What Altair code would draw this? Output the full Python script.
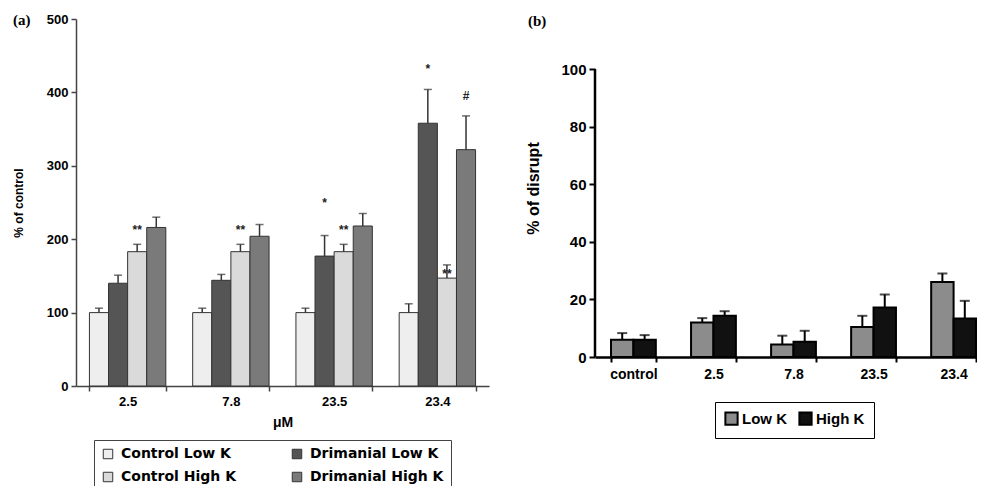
import altair as alt
import pandas as pd

# ---------------- panel (a) data ----------------
conc_a = ["2.5", "7.8", "23.5", "23.4"]
series_a = ["Control Low K", "Drimanial Low K", "Control High K", "Drimanial High K"]
ctrl_low = [100, 100, 100, 100]
ctrl_low_se = [6, 6, 6, 12]
drim_low = [140, 144, 177, 358]
drim_low_se = [11, 8, 28, 46]
ctrl_high = [183, 183, 183, 147]
ctrl_high_se = [10, 10, 10, 18]
drim_high = [216, 204, 218, 322]
drim_high_se = [14, 16, 17, 46]

sig_conc = ["2.5", "7.8", "23.5", "23.5", "23.4", "23.4", "23.4"]
sig_series = ["Control High K", "Control High K", "Drimanial Low K", "Control High K",
              "Drimanial Low K", "Control High K", "Drimanial High K"]
sig_pos = [212, 212, 250, 212, 432, 152, 395]
sig_text = ["**", "**", "*", "**", "*", "**", "#"]

# ---------------- panel (b) data ----------------
conc_b = ["control", "2.5", "7.8", "23.5", "23.4"]
series_b = ["Low K", "High K"]
low_k = [6, 12, 4.3, 10.4, 26]
low_k_se = [2.3, 1.5, 3.1, 3.9, 3]
high_k = [6, 14.3, 5.3, 17.2, 13.4]
high_k_se = [1.6, 1.6, 3.8, 4.5, 6.1]
yticks_b = [0, 20, 40, 60, 80, 100]

fill_a = ["#eeeeee", "#555555", "#dadada", "#7a7a7a"]
fill_b = ["#8c8c8c", "#111111"]

rows_a = []
for vals, ses, s in [(ctrl_low, ctrl_low_se, series_a[0]), (drim_low, drim_low_se, series_a[1]),
                     (ctrl_high, ctrl_high_se, series_a[2]), (drim_high, drim_high_se, series_a[3])]:
    for c, v, e in zip(conc_a, vals, ses):
        rows_a.append({"conc": c, "series": s, "value": v, "top": v + e})
df_a = pd.DataFrame(rows_a)
df_sig = pd.DataFrame({"conc": sig_conc, "series": sig_series, "pos": sig_pos, "text": sig_text})

rows_b = []
for vals, ses, s in [(low_k, low_k_se, series_b[0]), (high_k, high_k_se, series_b[1])]:
    for c, v, e in zip(conc_b, vals, ses):
        rows_b.append({"conc": c, "series": s, "value": v, "top": v + e})
df_b = pd.DataFrame(rows_b)

SANS = "Liberation Sans"

# ---------------- panel (a) chart ----------------
xa = alt.X("conc:N", sort=conc_a, title="μM",
           scale=alt.Scale(paddingInner=0.26, paddingOuter=0.13),
           axis=alt.Axis(labelAngle=0, tickBand="extent", domainColor="#444", domainWidth=1.5,
                         tickColor="#444", tickWidth=1.5, tickSize=5, labelPadding=4,
                         labelFont=SANS, labelFontWeight="bold", labelFontSize=13, labelColor="black",
                         titleFont=SANS, titleFontWeight="bold", titleFontSize=14, titleColor="black",
                         titlePadding=7))
xoa = alt.XOffset("series:N", sort=series_a, scale=alt.Scale(domain=series_a, paddingInner=0, paddingOuter=0))
ya = alt.Y("value:Q", title="% of control", scale=alt.Scale(domain=[0, 500]),
           axis=alt.Axis(values=[0, 100, 200, 300, 400, 500], grid=False, domainColor="#444",
                         domainWidth=1.5, tickColor="#444", tickWidth=1.5, tickSize=5, labelPadding=3,
                         labelFont=SANS, labelFontWeight="bold", labelFontSize=13, labelColor="black",
                         titleFont=SANS, titleFontWeight="bold", titleFontSize=12, titleColor="black",
                         titlePadding=21))

bars_a = alt.Chart(df_a).mark_bar(stroke="#333", strokeWidth=1).encode(
    x=xa, xOffset=xoa, y=ya,
    color=alt.Color("series:N", sort=series_a, scale=alt.Scale(domain=series_a, range=fill_a),
                    legend=alt.Legend(title=None, orient="none", legendX=18, legendY=421,
                                      direction="horizontal", columns=2, columnPadding=54,
                                      rowPadding=9, padding=7, strokeColor="#444",
                                      symbolType="square", symbolSize=90, symbolStrokeColor="#333",
                                      symbolStrokeWidth=1, labelFont="DejaVu Sans",
                                      labelFontWeight="bold", labelFontSize=14, labelColor="black",
                                      labelOffset=6)),
)
err_a = alt.Chart(df_a).mark_rule(color="#333", strokeWidth=1.5).encode(
    x=xa, xOffset=xoa, y="value:Q", y2="top:Q")
cap_a = alt.Chart(df_a).mark_tick(color="#333", thickness=1.5, size=8).encode(
    x=xa, xOffset=xoa, y="top:Q")
sig_a = alt.Chart(df_sig).mark_text(font=SANS, fontSize=12, fontWeight="bold", color="#222",
                                    baseline="middle").encode(
    x=xa, xOffset=xoa, y="pos:Q", text="text:N")
lab_a = alt.Chart(pd.DataFrame({"t": ["(a)"]})).mark_text(
    font="Liberation Serif", fontSize=15, fontWeight="bold", align="left", baseline="middle",
    color="black").encode(x=alt.value(-63), y=alt.value(1), text="t:N")

panel_a = alt.layer(bars_a, err_a, cap_a, sig_a, lab_a).properties(width=413, height=367)

# ---------------- panel (b) chart ----------------
HB = 338
ymax_b = 100 * HB / 288.0
xb = alt.X("conc:N", sort=conc_b, title=None,
           scale=alt.Scale(paddingInner=0.44, paddingOuter=0.1, align=1),
           axis=alt.Axis(labelAngle=0, tickBand="extent", domainColor="black", domainWidth=2.5,
                         tickColor="black", tickWidth=2, tickSize=5, labelPadding=5,
                         labelFont=SANS, labelFontWeight="bold", labelFontSize=14, labelColor="black"))
xob = alt.XOffset("series:N", sort=series_b, scale=alt.Scale(domain=series_b, paddingInner=0, paddingOuter=0))
yb = alt.Y("value:Q", title="% of disrupt", scale=alt.Scale(domain=[0, ymax_b], nice=False),
           axis=alt.Axis(values=yticks_b, grid=False, domain=False,
                         tickColor="black", tickWidth=2, tickSize=6, labelPadding=3,
                         labelFont=SANS, labelFontWeight="bold", labelFontSize=15, labelColor="black",
                         titleFont=SANS, titleFontWeight="bold", titleFontSize=16, titleColor="black",
                         titlePadding=19))

bars_b = alt.Chart(df_b).mark_bar(stroke="black", strokeWidth=2).encode(
    x=xb, xOffset=xob, y=yb,
    color=alt.Color("series:N", sort=series_b, scale=alt.Scale(domain=series_b, range=fill_b),
                    legend=alt.Legend(title=None, orient="none", legendX=120, legendY=383,
                                      direction="horizontal", columnPadding=8, padding=9,
                                      strokeColor="black", symbolType="square", symbolSize=150,
                                      symbolStrokeColor="black", symbolStrokeWidth=2,
                                      labelFont=SANS, labelFontWeight="bold", labelFontSize=15,
                                      labelColor="black", labelOffset=3)),
)
err_b = alt.Chart(df_b).mark_rule(color="black", strokeWidth=2).encode(
    x=xb, xOffset=xob, y="value:Q", y2="top:Q")
cap_b = alt.Chart(df_b).mark_tick(color="black", thickness=2, size=10).encode(
    x=xb, xOffset=xob, y="top:Q")
axis_line_b = alt.Chart(pd.DataFrame({"lo": [yticks_b[0]], "hi": [yticks_b[-1]]})).mark_rule(
    color="black", strokeWidth=2.5).encode(x=alt.value(0), y="lo:Q", y2="hi:Q")
lab_b = alt.Chart(pd.DataFrame({"t": ["(b)"]})).mark_text(
    font="Liberation Serif", fontSize=15, fontWeight="bold", align="left", baseline="middle",
    color="black").encode(x=alt.value(-67), y=alt.value(2), text="t:N")

panel_b = alt.layer(bars_b, err_b, cap_b, axis_line_b, lab_b).properties(width=381, height=HB)

chart = alt.hconcat(panel_a, panel_b, spacing=36).resolve_scale(
    color="independent", x="independent", y="independent", xOffset="independent"
).properties(padding={"left": 4, "top": 5, "right": 0, "bottom": 0}).configure_view(stroke=None)

chart.save("out.html", embed_options={"renderer": "svg", "actions": False})
